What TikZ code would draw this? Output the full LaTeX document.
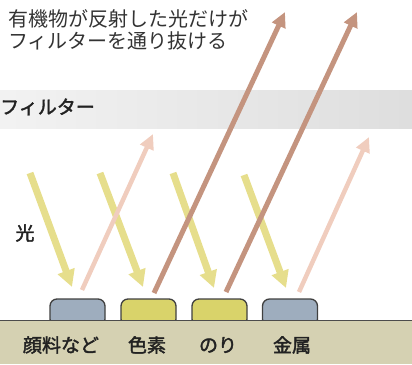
\documentclass[tikz,border=0pt]{standalone}
\usepackage{fontspec}
\newfontfamily\jp{Noto Sans CJK JP}
\newfontfamily\jpb[FakeBold=2]{Noto Sans CJK JP}
\usetikzlibrary{arrows.meta}
\definecolor{ylw}{HTML}{E6DE8C}
\definecolor{pnk}{HTML}{F0CDBE}
\definecolor{brn}{HTML}{C4947F}
\definecolor{grnd}{HTML}{D5D1B2}
\definecolor{bblue}{HTML}{9EADBE}
\definecolor{byel}{HTML}{D9D36A}
\definecolor{txt}{HTML}{333333}
\definecolor{lbltxt}{HTML}{222222}
\tikzset{
  inray/.style={draw=ylw, line width=7pt, -{Triangle[width=17pt,length=17pt]}},
  outray/.style={draw=pnk, line width=4.5pt, -{Triangle[width=14pt,length=15pt]}},
  passray/.style={draw=brn, line width=5pt, -{Triangle[width=14pt,length=15pt]}},
  blob/.style={draw=black!75, line width=1.3pt, rounded corners=7pt, minimum width=55pt, minimum height=27pt, inner sep=0pt},
  lbl/.style={text=lbltxt, font=\jpb\fontsize{19}{21}\selectfont, inner sep=0pt},
}
\begin{document}
\begin{tikzpicture}[x=1pt,y=-1pt]
\useasboundingbox (0,0) rectangle (412,364);
% filter band
\shade[left color=black!5, right color=black!13] (0,90) rectangle (412,128);
\node[lbl, anchor=west] (filt) at (0,107) {フィルター};
% title
\node[text=txt, font=\jp\fontsize{20}{22}\selectfont, anchor=north west, align=left, inner sep=0pt] (title) at (8,9) {有機物が反射した光だけが\\フィルターを通り抜ける};
\node[lbl] (hikari) at (25,233) {光};
% blobs
\node[blob, fill=bblue] (b1) at (77.5,312.5) {};
\node[blob, fill=byel] (b2) at (148.5,312.5) {};
\node[blob, fill=byel] (b3) at (219.5,312.5) {};
\node[blob, fill=bblue] (b4) at (290,312.5) {};
% ground
\fill[grnd] (0,320) rectangle (412,364);
\draw[black!70, line width=1pt] (0,320) -- (412,320);
\node[lbl] (l1) at (61,345) {顔料など};
\node[lbl] (l2) at (147,345) {色素};
\node[lbl] (l3) at (218,345) {のり};
\node[lbl] (l4) at (292,345) {金属};
% ray end points
\coordinate (y1s) at (30,173); \coordinate (y1e) at (72,287);
\coordinate (y2s) at (100,173); \coordinate (y2e) at (143,287);
\coordinate (y3s) at (173,173); \coordinate (y3e) at (214,288);
\coordinate (y4s) at (244,175); \coordinate (y4e) at (286,288);
\coordinate (p1s) at (82,290); \coordinate (p1e) at (153,134);
\coordinate (p2s) at (299,292); \coordinate (p2e) at (369,137);
\coordinate (r1s) at (154,293); \coordinate (r1e) at (285,12);
\coordinate (r2s) at (226,292); \coordinate (r2e) at (357,12);
% rays
\draw[inray] (y1s) -- (y1e);
\draw[inray] (y2s) -- (y2e);
\draw[inray] (y3s) -- (y3e);
\draw[inray] (y4s) -- (y4e);
\draw[outray] (p1s) -- (p1e);
\draw[outray] (p2s) -- (p2e);
\draw[passray] (r1s) -- (r1e);
\draw[passray] (r2s) -- (r2e);
\end{tikzpicture}
\end{document}
